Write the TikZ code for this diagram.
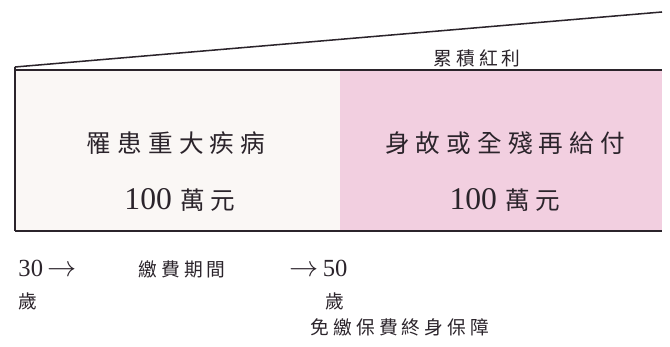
\documentclass[tikz,border=0pt]{standalone}
\usepackage{fontspec}
\setmainfont{Liberation Serif}
\newfontfamily\cjk[LetterSpace=25]{Noto Sans CJK TC}
\newfontfamily\cjksmall[LetterSpace=22]{Noto Sans CJK TC}
\definecolor{pinkfill}{rgb}{0.95,0.81,0.88}
\definecolor{offwhite}{rgb}{0.98,0.97,0.96}
\definecolor{inkcolor}{rgb}{0.17,0.14,0.17}
\newcommand{\agearrow}{\scalebox{1.2}[1.2]{$\rightarrow$}}

\begin{document}
\begin{tikzpicture}[x=0.03cm,y=0.03cm,thick,
  biglabel/.style={text=inkcolor,font=\fontsize{21}{24}\selectfont},
  smalllabel/.style={text=inkcolor,font=\fontsize{16}{19}\selectfont},
  agelabel/.style={text=inkcolor,font=\fontsize{21}{24}\selectfont,inner sep=0pt},
  line/.style={draw=inkcolor,line width=1.3pt}]
\useasboundingbox (0,0) rectangle (670,347);
\coordinate (tl) at (15,277);
\coordinate (tr) at (662,277);
\coordinate (bl) at (15,116);
\coordinate (br) at (662,116);
\coordinate (top) at (662,335);
\coordinate (start) at (15,280);
\coordinate (mid) at (340,277);
\coordinate (midb) at (340,116);
\fill[offwhite] (bl) rectangle (mid);
\fill[pinkfill] (midb) rectangle (tr);
\draw[line] (start) -- (top);
\draw[line] (bl) -- (start);
\draw[line] (tl) -- (tr);
\draw[line] (bl) -- (br);
\node[smalllabel] (bonus) at (477,289) {\cjksmall 累積紅利};
\node[biglabel] (illness) at (176,204) {\cjk 罹患重大疾病};
\node[biglabel] (amount1) at (180,147) {{\fontsize{27}{30}\selectfont 100}\,\,{\cjk 萬元}};
\node[biglabel] (death) at (505,204) {\cjk 身故或全殘再給付};
\node[biglabel] (amount2) at (505,147) {{\fontsize{27}{30}\selectfont 100}\,\,{\cjk 萬元}};
\node[agelabel,anchor=west] (age30) at (18,79) {30\,\agearrow};
\node[smalllabel,anchor=west,inner sep=0pt] (yr30) at (18,46) {\cjksmall 歲};
\node[smalllabel] (payperiod) at (182,78) {\cjksmall 繳費期間};
\node[agelabel,anchor=east] (age50) at (348,79) {\agearrow\,50};
\node[smalllabel,anchor=east,inner sep=0pt] (yr50) at (345,46) {\cjksmall 歲};
\node[smalllabel,anchor=west,inner sep=0pt] (waiver) at (310,20) {\cjksmall 免繳保費終身保障};
\end{tikzpicture}
\end{document}
